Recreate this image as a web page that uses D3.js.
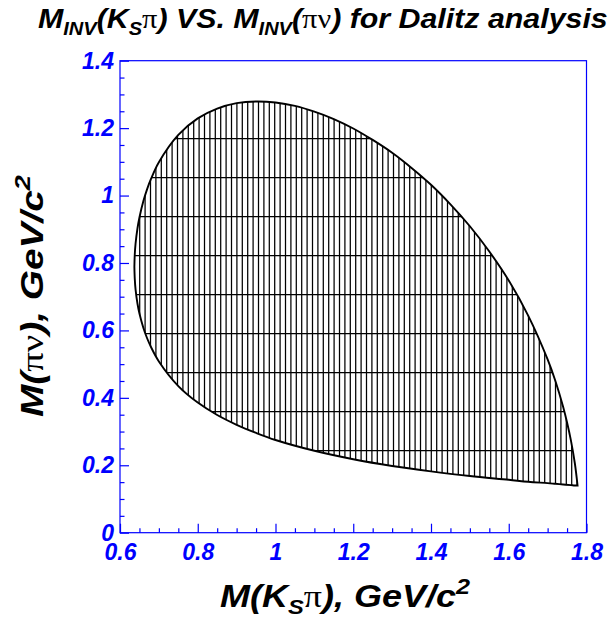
<!DOCTYPE html>
<html>
<head>
<meta charset="utf-8">
<script src="https://cdn.jsdelivr.net/npm/d3@7"></script>
<style>
  body { margin: 0; background: #fff; }
  svg { display: block; }
</style>
</head>
<body>
<svg id="chart" width="613" height="620"></svg>
<script>
// Axis ticks
const xTicks = [0.6, 0.8, 1, 1.2, 1.4, 1.6, 1.8];
const yTicks = [0, 0.2, 0.4, 0.6, 0.8, 1, 1.2, 1.4];
const xTickLabels = ["0.6", "0.8", "1", "1.2", "1.4", "1.6", "1.8"];
const yTickLabels = ["0", "0.2", "0.4", "0.6", "0.8", "1", "1.2", "1.4"];

// Kinematic boundary, upper branch: M(K_S pi) [GeV] -> max M(pi nu) [GeV]
const upperMKpi  = [0.637, 0.638, 0.640, 0.645, 0.650, 0.660, 0.670, 0.680, 0.700, 0.750, 0.800, 0.850, 0.900, 0.950, 1.000, 1.050, 1.100, 1.150, 1.200, 1.250, 1.300, 1.350, 1.400, 1.450, 1.500, 1.550, 1.600, 1.650, 1.700, 1.720, 1.740, 1.750, 1.760, 1.770, 1.777];
const upperMpinu = [0.789, 0.825, 0.857, 0.903, 0.935, 0.983, 1.020, 1.050, 1.099, 1.180, 1.229, 1.258, 1.274, 1.279, 1.276, 1.266, 1.249, 1.227, 1.199, 1.165, 1.127, 1.082, 1.032, 0.974, 0.909, 0.834, 0.748, 0.644, 0.514, 0.450, 0.373, 0.327, 0.273, 0.206, 0.140];

// Lower branch, from the right tip back to the left edge
const lowerMKpi  = [1.777, 1.770, 1.760, 1.740, 1.720, 1.700, 1.650, 1.600, 1.500, 1.400, 1.300, 1.200, 1.100, 1.000, 0.950, 0.900, 0.850, 0.800, 0.750, 0.700, 0.680, 0.670, 0.660, 0.650, 0.645, 0.640, 0.638, 0.637];
const lowerMpinu = [0.140, 0.140, 0.141, 0.143, 0.145, 0.147, 0.151, 0.157, 0.168, 0.182, 0.198, 0.218, 0.243, 0.275, 0.296, 0.320, 0.349, 0.386, 0.435, 0.508, 0.550, 0.576, 0.608, 0.650, 0.679, 0.722, 0.753, 0.789];

const svg = d3.select("#chart");
const FONT = "'Liberation Sans', Arial, Helvetica, sans-serif";
const GREEK = "'Liberation Serif', 'DejaVu Serif', serif";
const BLUE = "#0000ff";

const frame = { left: 120, right: 586.5, top: 60.7, bottom: 532.7 };
const x = d3.scaleLinear().domain([0.6, 1.8]).range([frame.left, frame.right]);
const y = d3.scaleLinear().domain([0, 1.4]).range([frame.bottom, frame.top]);

// Boundary: two smooth branches joined at the sharp right tip
const branch = d3.line().x(d => x(d[0])).y(d => y(d[1])).curve(d3.curveCatmullRom.alpha(0.5));
const upperD = branch(upperMKpi.map((v, i) => [v, upperMpinu[i]]));
const lowerD = branch(lowerMKpi.map((v, i) => [v, lowerMpinu[i]]));
const pathD = upperD + "L" + lowerD.slice(1) + "Z";

svg.append("clipPath").attr("id", "region")
  .append("path").attr("d", pathD);

// Hatched fill: fine vertical lines plus sparse horizontal lines
const hatch = svg.append("g").attr("clip-path", "url(#region)")
  .attr("stroke", "#000").attr("stroke-width", 1.25);
const vx = d3.range(301.7 - 5.4 * 33, frame.right, 5.4);
hatch.selectAll("line.v").data(vx).join("line").attr("class", "v")
  .attr("x1", d => d).attr("x2", d => d)
  .attr("y1", frame.top).attr("y2", frame.bottom);
const hy = d3.range(411.5 - 39 * 10, frame.bottom, 39);
hatch.selectAll("line.h").data(hy).join("line").attr("class", "h")
  .attr("x1", frame.left).attr("x2", frame.right)
  .attr("y1", d => d).attr("y2", d => d);

svg.append("path").attr("d", pathD)
  .attr("fill", "none").attr("stroke", "#000").attr("stroke-width", 1.9)
  .attr("stroke-linejoin", "miter");

// Frame
svg.append("rect")
  .attr("x", frame.left).attr("y", frame.top)
  .attr("width", frame.right - frame.left).attr("height", frame.bottom - frame.top)
  .attr("fill", "none").attr("stroke", BLUE).attr("stroke-width", 1.2);

// Minor ticks
const xMinor = d3.range(0.6, 1.8001, 0.05).filter(v => Math.abs(v * 5 - Math.round(v * 5)) > 1e-6);
const yMinor = d3.range(0, 1.4001, 0.05).filter(v => Math.abs(v * 5 - Math.round(v * 5)) > 1e-6);

function styleAxis(g) {
  g.select(".domain").remove();
  g.selectAll(".tick line").attr("stroke", BLUE).attr("stroke-width", 1.2);
  g.selectAll(".tick text")
    .attr("fill", BLUE)
    .style("font-family", FONT).style("font-weight", "bold")
    .style("font-style", "italic").style("font-size", "23px");
}

svg.append("g").attr("transform", `translate(0,${frame.bottom})`)
  .call(d3.axisBottom(x).tickValues(xTicks).tickSize(-9).tickPadding(11)
    .tickFormat((d, i) => xTickLabels[i]))
  .call(styleAxis);
svg.append("g").attr("transform", `translate(0,${frame.bottom})`)
  .call(d3.axisBottom(x).tickValues(xMinor).tickSize(-4.5).tickFormat(""))
  .call(styleAxis);

svg.append("g").attr("transform", `translate(${frame.left},0)`)
  .call(d3.axisLeft(y).tickValues(yTicks).tickSize(-9).tickPadding(6)
    .tickFormat((d, i) => yTickLabels[i]))
  .call(styleAxis);
svg.append("g").attr("transform", `translate(${frame.left},0)`)
  .call(d3.axisLeft(y).tickValues(yMinor).tickSize(-4.5).tickFormat(""))
  .call(styleAxis);

// Rich text helper: parts are [text, kind] with kind in "n", "sub", "sup", "g"
function richText(parent, parts, size, baseY) {
  const t = parent.append("text")
    .attr("y", baseY)
    .style("font-family", FONT).style("font-weight", "bold")
    .style("font-style", "italic").style("font-size", size + "px")
    .attr("fill", "#000");
  let shift = 0;
  parts.forEach(([s, kind]) => {
    const sp = t.append("tspan").text(s);
    let target = 0;
    if (kind === "sub") { target = size * 0.24; sp.style("font-size", (size * 0.66) + "px"); }
    if (kind === "sup") { target = -size * 0.42; sp.style("font-size", (size * 0.7) + "px"); }
    if (kind === "g") {
      sp.style("font-family", GREEK).style("font-style", "normal").style("font-weight", "normal");
    }
    sp.attr("dy", target - shift);
    shift = target;
  });
  return t;
}

function fitWidth(t, left, width) {
  const b = t.node().getBBox();
  const k = width / b.width;
  t.attr("transform", `translate(${left},0) scale(${k},1) translate(${-b.x},0)`);
}

// Title
const title = richText(svg, [
  ["M", "n"], ["INV", "sub"], ["(K", "n"], ["S", "sub"], ["\u03c0", "g"],
  [") VS. M", "n"], ["INV", "sub"], ["(", "n"], ["\u03c0\u03bd", "g"],
  [") for Dalitz analysis", "n"]
], 28, 28);
fitWidth(title, 38, 570);

// X axis title
const xTitle = richText(svg, [
  ["M(K", "n"], ["S", "sub"], ["\u03c0", "g"], ["), GeV/c", "n"], ["2", "sup"]
], 31, 607);
fitWidth(xTitle, 220, 250);

// Y axis title
const yG = svg.append("g").attr("transform", "rotate(-90)");
const yTitle = richText(yG, [
  ["M(", "n"], ["\u03c0\u03bd", "g"], ["),  GeV/c", "n"], ["2", "sup"]
], 31, 43);
fitWidth(yTitle, -417, 242);
</script>
</body>
</html>
